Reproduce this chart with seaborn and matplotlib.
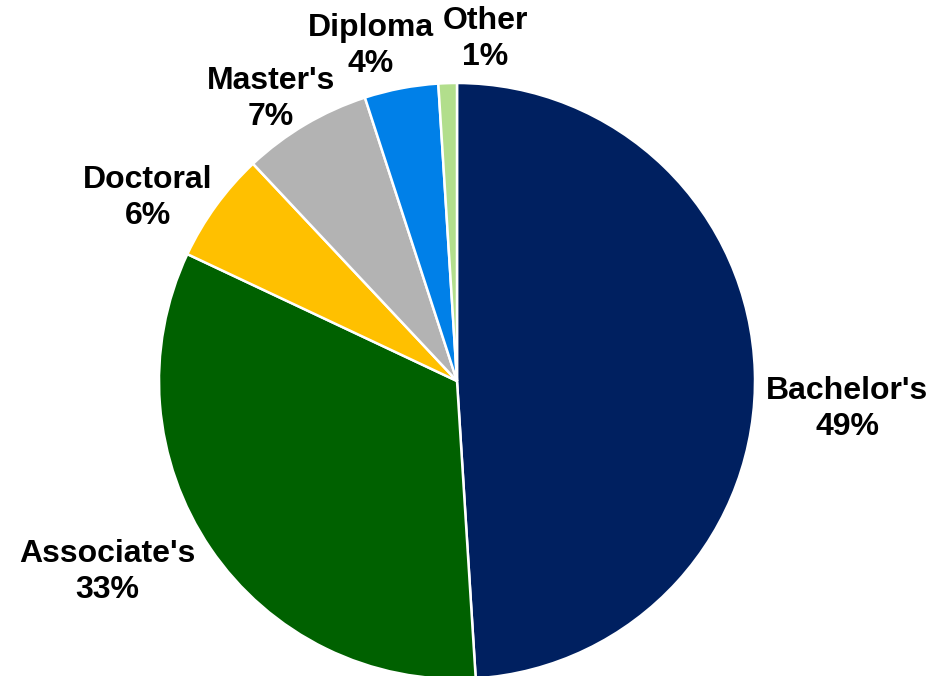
import matplotlib
matplotlib.use("Agg")
import matplotlib.pyplot as plt
import seaborn as sns

# Degree distribution
categories = ["Bachelor's", "Associate's", "Doctoral", "Master's", "Diploma", "Other"]
shares = [49, 33, 6, 7, 4, 1]
colors = ["#002060", "#006100", "#FFC000", "#B3B3B3", "#0080E8", "#B2DE8C"]

# Label anchor points in figure pixels (x, y from top)
label_xy = [(847, 409), (107, 572), (148, 198), (271, 99), (371, 46), (485, 39)]

sns.set_theme(style="white")
plt.rcParams["font.family"] = ["Liberation Sans", "DejaVu Sans"]

W, H = 933, 676
fig = plt.figure(figsize=(W / 100, H / 100), dpi=100)
ax = fig.add_axes([0, 0, 1, 1])

cx, cy, r = 457, H - 381, 298
ax.pie(
    shares,
    colors=sns.color_palette(colors),
    startangle=90,
    counterclock=False,
    center=(cx, cy),
    radius=r,
    wedgeprops=dict(edgecolor="white", linewidth=1.8),
    frame=True,
)
ax.set_xlim(0, W)
ax.set_ylim(0, H)
ax.set_aspect("equal")
ax.axis("off")

for name, val, (x, y) in zip(categories, shares, label_xy):
    ax.text(x, H - y, f"{name}\n{val}%", ha="center", va="center",
            fontsize=23, fontweight="bold", color="black", linespacing=1.27)

fig.savefig("out.png", dpi=100)
